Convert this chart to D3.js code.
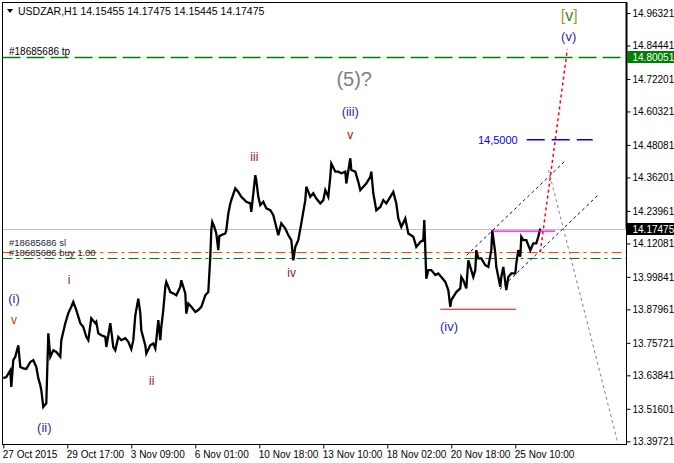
<!DOCTYPE html>
<html><head><meta charset="utf-8">
<script src="https://cdn.jsdelivr.net/npm/d3@7"></script>
<style>
html,body{margin:0;padding:0;background:#fff;}
svg text{font-family:"Liberation Sans",Arial,sans-serif;}
</style></head>
<body><svg id="c" width="674" height="463"></svg>
<script>
// ---- data ----
const symbol = "USDZAR,H1";
const ohlc = ["14.15455","14.17475","14.15445","14.17475"];
const barIdx = [0,3,7,8,10,12,15,17,20,23,27,30,33,35,37,38,40,43,45,47,50,53,57,58,62,65,68,70,73,77,80,83,85,88,92,93,95,98,102,103,107,110,112,115,118,122,125,128,130,132,135,137,138,142,143,147,150,152,153,155,157,158,160,162,163,167,170,173,177,178,182,183,185,188,192,195,198,202,205,207,208,209,211,213,215,216,218,222,223,225,227,228,232,235,238,243,247,248,252,253,255,257,260,263,267,270,273,275,278,282,285,288,290,292,295,298,302,303,307,310,313,317,320,322,325,327,328,332,335,338,342,343,347,348,352,355,357,360,363,367,368,370,373,377,380,383,387,390,393,395,398,402,405,410,413,417,420,421,423,425,428,432,435,438,442,445,447,448,450,453,457,458,460,463,465,467,470,472,473,475,478,482,485,488,489,492,493,497,498,500,503,505,508,512,513,515,517,518,520,523,525,527,530,533,535,537];
const price = [13.628,13.632,13.657,13.596,13.694,13.706,13.748,13.669,13.664,13.662,13.687,13.694,13.669,13.628,13.602,13.584,13.523,13.536,13.792,13.706,13.730,13.724,13.706,13.767,13.829,13.866,13.889,13.907,13.877,13.829,13.815,13.779,13.767,13.847,13.829,13.834,13.792,13.785,13.779,13.742,13.829,13.742,13.730,13.779,13.767,13.774,13.761,13.734,13.767,13.858,13.919,13.866,13.803,13.748,13.718,13.748,13.755,13.737,13.767,13.840,13.767,13.815,13.877,13.962,13.980,13.943,13.938,13.931,13.962,13.986,13.938,13.864,13.901,13.889,13.870,13.877,13.889,13.931,13.943,14.072,14.169,14.199,14.181,14.157,14.096,14.147,14.151,14.157,14.169,14.230,14.267,14.279,14.322,14.309,14.291,14.273,14.267,14.236,14.370,14.352,14.291,14.261,14.273,14.249,14.242,14.224,14.181,14.151,14.194,14.175,14.151,14.133,14.059,14.108,14.133,14.194,14.279,14.328,14.291,14.304,14.285,14.267,14.279,14.316,14.291,14.364,14.413,14.383,14.383,14.377,14.383,14.340,14.432,14.389,14.383,14.346,14.316,14.328,14.340,14.364,14.383,14.304,14.242,14.254,14.279,14.267,14.291,14.309,14.267,14.212,14.181,14.212,14.157,14.145,14.108,14.126,14.133,14.206,13.992,14.023,14.023,14.005,14.011,13.998,13.980,13.950,13.889,13.913,13.925,13.943,13.956,13.998,13.986,13.956,14.059,14.035,13.998,14.023,14.096,14.066,14.066,14.041,14.035,14.096,14.169,14.084,14.035,13.962,13.998,14.035,13.950,13.998,14.011,14.011,14.047,14.096,14.072,14.145,14.133,14.133,14.114,14.096,14.121,14.121,14.145,14.17475];

const yTicks = [14.96321,14.84441,14.72201,14.60321,14.48081,14.36201,14.23961,14.12081,13.99841,13.87961,13.75721,13.63841,13.51601,13.39721];
const xTickIdx = [0,64,128,192,256,320,384,448,512];
const xTickLabels = ["27 Oct 2015","29 Oct 17:00","3 Nov 09:00","6 Nov 01:00","10 Nov 18:00","13 Nov 10:00","18 Nov 02:00","20 Nov 18:00","25 Nov 10:00"];

const tpPrice = 14.80051, slPrice = 14.0900, buyPrice = 14.0680, lastPrice = 14.17475;
const targetPrice = 14.5000;
const orderId = "#18685686";

// wave labels: [text, bar index, price, kind]
const waveLabels = [
  ["[v]",566,14.956,"major"],["(v)",565.4,14.879,"minor"],["(5)?",350.9,14.722,"grey"],
  ["(iii)",347,14.603,"minor"],["v",347,14.517,"red"],["iii",251,14.435,"sub"],
  ["iv",288.4,14.011,"sub"],["i",65.7,13.986,"sub"],["(i)",10.7,13.919,"minor"],
  ["v",10.7,13.840,"orange"],["ii",148.4,13.617,"sub"],["(ii)",41,13.446,"minor"],["(iv)",445.7,13.818,"minor"]
];
// segments: [idx1, price1, idx2, price2]
const supportLine = [437, 13.880, 512.5, 13.880];
const resistLine = [489.4, 14.1655, 551.7, 14.1655];
const channelUpper = [463.4, 14.0777, 562.7, 14.4253];
const channelLower = [496.7, 13.9533, 594.7, 14.2973];
const bullPath = [537, 14.089, 564, 14.830];
const bearPath = [545.2, 14.389, 616, 13.370];
const targetSeg = [523.4, 589.4];

// ---- drawing ----
const svg = d3.select("#c");
const L = 2.5, T = 2.5, R = 626.5, B = 444.5;
const x = d3.scaleLinear().domain([0, 620]).range([3.3, 623.3]);
const y = d3.scaleLinear().domain([13.39721, 14.96321]).range([441.3, 13]);

svg.append("defs").append("clipPath").attr("id","clip")
  .append("rect").attr("x",L).attr("y",T).attr("width",R-L).attr("height",B-T);
const g = svg.append("g").attr("clip-path","url(#clip)");

function hline(v, color, dash, w){
  g.append("line").attr("x1",L).attr("x2",R).attr("y1",Math.round(y(v))+0.5).attr("y2",Math.round(y(v))+0.5)
   .attr("stroke",color).attr("stroke-width",w||1).attr("stroke-dasharray",dash||null);
}
hline(lastPrice, "#c0c0c0");
hline(tpPrice, "#008000", "18,6", 1.5);
hline(slPrice, "#ff4500", "10,4,3,4", 1.2);
hline(buyPrice, "#008000", "10,4,3,4", 1.2);

function seg(s, color, dash, w){
  g.append("line").attr("x1",x(s[0])).attr("y1",y(s[1])).attr("x2",x(s[2])).attr("y2",y(s[3]))
   .attr("stroke",color).attr("stroke-width",w||1).attr("stroke-dasharray",dash||null);
}
seg(channelUpper, "#000080", "3,3", 1);
seg(channelLower, "#000080", "3,3", 1);
seg(bearPath, "#808080", "3,3", 1);

// price series
g.append("path").datum(barIdx.map((d,i)=>[d,price[i]]))
  .attr("fill","none").attr("stroke","#000").attr("stroke-width",2.3).attr("stroke-linejoin","miter")
  .attr("d", d3.line().x(d=>x(d[0])).y(d=>y(d[1])));

seg(supportLine, "#ff0000", null, 1.2);
seg(resistLine, "#ff00ff", null, 1.2);
seg(bullPath, "#ff0000", "3,3", 1.5);
g.append("line").attr("x1",x(targetSeg[0])).attr("x2",x(targetSeg[1]))
  .attr("y1",y(targetPrice)).attr("y2",y(targetPrice))
  .attr("stroke","#0000ff").attr("stroke-width",1.5).attr("stroke-dasharray","18,7");
g.append("text").attr("x",x(targetSeg[0])-9).attr("y",y(targetPrice)+4)
  .attr("text-anchor","end").attr("font-size",11).attr("fill","#0000ff").text(d3.format(".4f")(targetPrice).replace(".",","));

// order labels
g.append("text").attr("x",9).attr("y",y(tpPrice)-2).attr("font-size",10).attr("fill","#000").text(orderId+" tp");
g.append("text").attr("x",9).attr("y",y(slPrice)-5.5).attr("font-size",9.5).attr("fill","#223").text(orderId+" sl");
g.append("text").attr("x",9).attr("y",y(buyPrice)-1.5).attr("font-size",9.5).attr("fill","#223").text(orderId+" buy 1.00");

// wave labels
const waveStyle = {
  major:{size:16,fill:"#2e8b2e"}, minor:{size:13,fill:"#2c2ca0"}, grey:{size:20,fill:"#808080"},
  red:{size:12,fill:"#c00000"}, sub:{size:12,fill:"#8b1a2a"}, orange:{size:12,fill:"#c04010"}
};
waveLabels.forEach(w=>{
  const st = waveStyle[w[3]];
  const t = g.append("text").attr("x",x(w[1])).attr("y",y(w[2])).attr("text-anchor","middle")
    .attr("dominant-baseline","central").attr("font-size",st.size).attr("fill",st.fill);
  if (w[3]==="major"){
    t.append("tspan").attr("fill","#a0a020").text("[");
    t.append("tspan").attr("fill","#2e8b2e").text(w[0].slice(1,-1));
    t.append("tspan").attr("fill","#a0a020").text("]");
  } else t.text(w[0]);
});

// frame
svg.append("rect").attr("x",L).attr("y",T).attr("width",R-L).attr("height",B-T)
  .attr("fill","none").attr("stroke","#000").attr("stroke-width",1);
svg.append("line").attr("x1",R).attr("x2",R).attr("y1",T).attr("y2",y(lastPrice))
  .attr("stroke","#000").attr("stroke-width",2);

// y axis
const yAxis = svg.append("g").attr("transform",`translate(${R},0)`)
  .call(d3.axisRight(y).tickValues(yTicks).tickSize(4).tickPadding(2).tickFormat(d3.format(".5f")));
yAxis.select(".domain").remove();
yAxis.selectAll("text").attr("font-size",10).attr("font-family","Liberation Sans, Arial, sans-serif").attr("fill","#000");

// price tags
function tag(v, bg){
  const yy = Math.round(y(v));
  svg.append("rect").attr("x",R+0.5).attr("y",yy-6).attr("width",674-R).attr("height",12).attr("fill",bg);
  svg.append("text").attr("x",R+6).attr("y",yy).attr("dominant-baseline","central")
    .attr("font-size",10).attr("fill","#fff").text(d3.format(".5f")(v));
}
tag(tpPrice, "#008000");
tag(lastPrice, "#000000");

// x axis
const xAxis = svg.append("g").attr("transform",`translate(0,${B})`)
  .call(d3.axisBottom(x).tickValues(xTickIdx).tickSize(4).tickFormat((d,i)=>xTickLabels[i]));
xAxis.select(".domain").remove();
xAxis.selectAll("text").attr("text-anchor","start").attr("dx",-1).attr("dy","0.6em")
  .attr("font-size",10).attr("font-family","Liberation Sans, Arial, sans-serif").attr("fill","#000");

// header
svg.append("path").attr("d","M7,9 L13,9 L10,13 Z").attr("fill","#000");
svg.append("text").attr("x",18).attr("y",15).attr("font-size",10.5).attr("fill","#000")
  .text(symbol+"  "+ohlc.join(" "));
</script></body></html>
